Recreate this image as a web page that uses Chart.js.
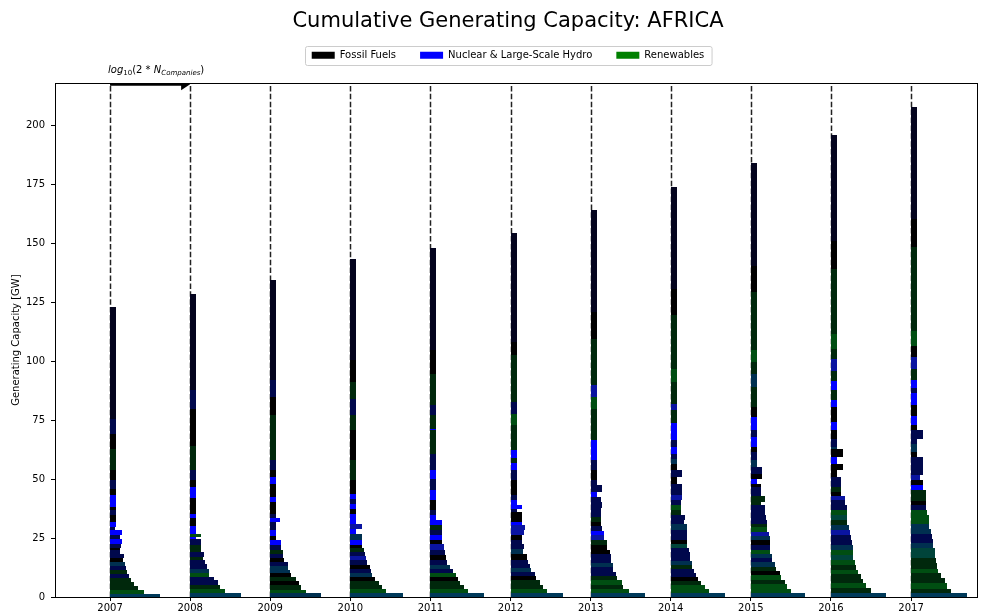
<!DOCTYPE html>
<html>
<head>
<meta charset="utf-8">
<title>Cumulative Generating Capacity: AFRICA</title>
<script src="https://cdn.jsdelivr.net/npm/chart.js@4.4.0/dist/chart.umd.min.js"></script>
<style>
    html, body { margin: 0; padding: 0; background: #fff; }
    #wrap { width: 984px; height: 612px; }
</style>
</head>
<body>
<div id="wrap"><canvas id="capacity-chart" width="984" height="612"></canvas></div>
<script>
const years = [2007, 2008, 2009, 2010, 2011, 2012, 2013, 2014, 2015, 2016, 2017];
const yTicks = [0, 25, 50, 75, 100, 125, 150, 175, 200];
const categories = ['Fossil Fuels', 'Nuclear & Large-Scale Hydro', 'Renewables'];
const categoryColors = ['#000000', '#0000ff', '#008000'];

// each company block: [cumulative capacity at its top (GW), log10(2*N) width (years), fuel mix key]
const seg2007 = [
    [1.4, 0.63, 'c'], [3.1, 0.43, 'G'], [4.7, 0.35, 'g'], [6.5, 0.30, 'g'], [8.2, 0.26, 'g'],
    [9.9, 0.24, 'n'], [11.6, 0.21, 'g'], [13.3, 0.20, 'n'], [15.0, 0.19, 't'], [16.7, 0.16, 'k'],
    [18.4, 0.18, 'n'], [19.8, 0.13, 'n'], [20.8, 0.13, 'k'], [22.4, 0.14, 'n'], [24.5, 0.15, 'b'],
    [26.1, 0.13, 'n'], [28.2, 0.15, 'b'], [29.6, 0.06, 'n'], [31.8, 0.075, 'b'], [34.6, 0.075, 'k'],
    [37.0, 0.075, 'n'], [38.1, 0.075, 'k'], [43.1, 0.075, 'b'], [45.9, 0.075, 'k'], [49.4, 0.075, 'n'],
    [53.7, 0.075, 'k'], [62.9, 0.075, 'g'], [69.2, 0.075, 'k'], [75.6, 0.075, 'n'], [123.0, 0.075, 'd']
];
const seg2008 = [
    [1.7, 0.63, 'c'], [3.5, 0.43, 'G'], [5.2, 0.375, 'g'], [7.1, 0.35, 'n'], [8.5, 0.30, 'n'],
    [10.2, 0.24, 'G'], [12.0, 0.23, 't'], [13.9, 0.21, 'n'], [15.5, 0.19, 'n'], [17.0, 0.16, 'g'],
    [19.1, 0.17, 'n'], [22.0, 0.14, 'g'], [24.7, 0.14, 'n'], [25.5, 0.075, 'b'], [26.8, 0.13, 'G'],
    [30.0, 0.075, 'b'], [33.6, 0.075, 'k'], [35.3, 0.075, 'b'], [42.1, 0.075, 'k'], [46.6, 0.075, 'b'],
    [49.4, 0.075, 'k'], [53.7, 0.075, 'n'], [64.0, 0.075, 'g'], [79.8, 0.075, 'k'], [87.6, 0.075, 'n'],
    [128.6, 0.075, 'd']
];
const seg2009 = [
    [1.7, 0.64, 't'], [3.1, 0.45, 'G'], [4.9, 0.38, 'g'], [6.8, 0.36, 'k'], [8.5, 0.32, 'g'],
    [10.2, 0.26, 'k'], [11.6, 0.25, 't'], [13.3, 0.22, 't'], [15.0, 0.22, 'n'], [16.7, 0.175, 'k'],
    [18.4, 0.16, 'n'], [20.1, 0.16, 'g'], [22.1, 0.13, 'n'], [24.3, 0.13, 'b'], [25.7, 0.075, 'k'],
    [28.3, 0.075, 'b'], [31.8, 0.075, 'n'], [33.6, 0.125, 'b'], [35.3, 0.075, 'n'], [40.3, 0.075, 'k'],
    [42.4, 0.075, 'b'], [48.0, 0.075, 'k'], [50.9, 0.075, 'b'], [53.7, 0.075, 'k'], [57.9, 0.075, 'n'],
    [77.0, 0.075, 'g'], [84.7, 0.075, 'k'], [91.8, 0.075, 'n'], [134.5, 0.075, 'd']
];
const seg2010 = [
    [1.7, 0.66, 'c'], [3.4, 0.45, 'G'], [5.1, 0.39, 'g'], [6.8, 0.36, 'g'], [8.5, 0.31, 'k'],
    [10.2, 0.27, 't'], [11.9, 0.26, 'n'], [13.6, 0.24, 'k'], [15.5, 0.21, 'n'], [17.2, 0.19, 'm'],
    [18.9, 0.18, 'n'], [20.6, 0.17, 'g'], [22.1, 0.14, 'k'], [24.3, 0.14, 'b'], [26.8, 0.14, 't'],
    [28.9, 0.075, 'b'], [31.1, 0.14, 'm'], [35.0, 0.075, 'b'], [37.4, 0.075, 'k'], [39.6, 0.075, 'b'],
    [41.7, 0.075, 'n'], [43.8, 0.075, 'b'], [49.4, 0.075, 'k'], [57.9, 0.075, 'g'], [70.6, 0.075, 'k'],
    [77.0, 0.075, 'g'], [84.0, 0.075, 'n'], [91.0, 0.075, 'g'], [100.3, 0.075, 'k'], [143.4, 0.075, 'd']
];
const seg2011 = [
    [1.7, 0.67, 'c'], [3.4, 0.47, 'G'], [5.1, 0.42, 'g'], [6.8, 0.375, 'g'], [8.5, 0.35, 'k'],
    [10.2, 0.32, 'G'], [11.9, 0.28, 'n'], [13.6, 0.25, 't'], [15.5, 0.21, 'n'], [17.7, 0.19, 'k'],
    [20.1, 0.18, 'n'], [22.3, 0.17, 'm'], [24.3, 0.14, 'k'], [26.1, 0.14, 'b'], [28.3, 0.14, 'n'],
    [30.4, 0.14, 'g'], [32.5, 0.14, 'b'], [34.6, 0.075, 'b'], [36.7, 0.075, 'n'], [41.0, 0.075, 'k'],
    [45.2, 0.075, 'b'], [50.1, 0.075, 'n'], [53.7, 0.075, 'b'], [60.7, 0.075, 'n'], [70.6, 0.075, 'g'],
    [71.3, 0.075, 'b'], [77.0, 0.075, 'g'], [81.2, 0.075, 'n'], [94.6, 0.075, 'g'], [104.5, 0.075, 'k'],
    [147.8, 0.075, 'd']
];
const seg2012 = [
    [1.7, 0.66, 'c'], [3.4, 0.46, 'G'], [5.1, 0.40, 'g'], [7.1, 0.37, 'g'], [8.8, 0.32, 'k'],
    [10.6, 0.30, 'n'], [12.4, 0.26, 't'], [14.1, 0.24, 'n'], [15.8, 0.22, 'n'], [18.4, 0.20, 'k'],
    [20.5, 0.16, 't'], [22.3, 0.17, 'n'], [24.0, 0.14, 'n'], [26.1, 0.14, 'k'], [28.3, 0.17, 'm'],
    [30.4, 0.18, 'm'], [31.8, 0.14, 'b'], [36.0, 0.14, 'k'], [37.4, 0.075, 'n'], [39.2, 0.14, 'b'],
    [41.0, 0.075, 'b'], [43.1, 0.075, 'n'], [49.4, 0.075, 'k'], [53.7, 0.075, 'n'], [56.8, 0.075, 'b'],
    [59.1, 0.075, 'g'], [62.2, 0.075, 'b'], [72.7, 0.075, 'g'], [77.7, 0.075, 'G'], [82.6, 0.075, 'n'],
    [102.4, 0.075, 'g'], [108.0, 0.075, 'k'], [154.5, 0.075, 'd']
];
const seg2013 = [
    [1.7, 0.675, 'c'], [3.4, 0.48, 'G'], [5.1, 0.40, 'g'], [7.1, 0.39, 'G'], [8.8, 0.33, 'g'],
    [10.6, 0.32, 'n'], [12.7, 0.28, 'n'], [14.4, 0.275, 't'], [16.1, 0.25, 'n'], [18.1, 0.25, 'n'],
    [19.8, 0.24, 'k'], [21.9, 0.21, 'k'], [24.3, 0.21, 'g'], [26.1, 0.17, 'm'], [27.9, 0.17, 'b'],
    [29.9, 0.14, 'n'], [31.8, 0.125, 'k'], [33.9, 0.125, 'g'], [36.0, 0.125, 'n'], [37.9, 0.125, 'n'],
    [40.3, 0.14, 'n'], [42.4, 0.125, 'n'], [44.5, 0.075, 'b'], [47.3, 0.14, 'n'], [49.4, 0.075, 'n'],
    [53.7, 0.075, 'k'], [57.9, 0.075, 'n'], [66.4, 0.075, 'b'], [79.8, 0.075, 'g'], [84.7, 0.075, 'G'],
    [89.7, 0.075, 'm'], [109.5, 0.075, 'g'], [120.8, 0.075, 'k'], [164.0, 0.075, 'd']
];
const seg2014 = [
    [1.7, 0.68, 'c'], [3.4, 0.48, 'G'], [5.1, 0.425, 'G'], [6.8, 0.38, 'g'], [8.5, 0.34, 'k'],
    [10.2, 0.32, 'n'], [11.9, 0.29, 'n'], [13.6, 0.26, 'g'], [15.3, 0.26, 't'], [17.0, 0.24, 'n'],
    [19.1, 0.24, 'n'], [20.9, 0.225, 'n'], [22.6, 0.20, 'e'], [24.3, 0.20, 'k'], [26.1, 0.20, 'n'],
    [28.3, 0.20, 'n'], [31.1, 0.20, 't'], [32.5, 0.165, 'n'], [34.6, 0.175, 'n'], [36.7, 0.13, 'g'],
    [38.9, 0.13, 'G'], [41.0, 0.13, 'n'], [43.1, 0.145, 'm'], [45.2, 0.145, 'n'], [48.0, 0.145, 'n'],
    [50.9, 0.075, 'k'], [53.7, 0.145, 'n'], [56.5, 0.075, 'k'], [58.6, 0.075, 't'], [60.7, 0.075, 'n'],
    [63.6, 0.075, 'b'], [66.4, 0.075, 'n'], [73.6, 0.075, 'b'], [79.1, 0.075, 'g'], [81.9, 0.075, 'm'],
    [91.1, 0.075, 'g'], [96.8, 0.075, 'G'], [119.4, 0.075, 'g'], [130.6, 0.075, 'k'], [173.7, 0.075, 'd']
];
const seg2015 = [
    [1.7, 0.68, 'c'], [3.5, 0.50, 'G'], [5.7, 0.455, 'G'], [7.4, 0.425, 'g'], [9.3, 0.38, 'G'],
    [11.0, 0.36, 'k'], [12.7, 0.32, 'g'], [14.7, 0.30, 't'], [16.4, 0.27, 'n'], [18.4, 0.26, 't'],
    [20.1, 0.24, 'G'], [21.9, 0.24, 'n'], [24.0, 0.24, 'k'], [25.7, 0.24, 't'], [27.5, 0.23, 'm'],
    [29.7, 0.20, 'G'], [31.1, 0.20, 'g'], [32.8, 0.20, 'n'], [34.6, 0.19, 'n'], [38.9, 0.175, 'n'],
    [40.3, 0.13, 'g'], [42.7, 0.18, 'g'], [46.6, 0.13, 'n'], [48.0, 0.13, 'k'], [50.1, 0.075, 'b'],
    [52.3, 0.145, 'k'], [55.1, 0.145, 'n'], [57.9, 0.075, 't'], [61.4, 0.075, 'n'], [63.6, 0.075, 'k'],
    [67.8, 0.075, 'b'], [70.6, 0.075, 'n'], [76.3, 0.075, 'b'], [80.5, 0.075, 'k'], [89.0, 0.075, 'g'],
    [94.6, 0.075, 't'], [99.6, 0.075, 'g'], [104.5, 0.075, 'G'], [129.2, 0.075, 'g'], [140.5, 0.075, 'k'],
    [184.0, 0.075, 'd']
];
const seg2016 = [
    [1.7, 0.69, 'c'], [4.0, 0.50, 'g'], [5.9, 0.44, 'G'], [7.8, 0.40, 'g'], [9.6, 0.38, 'g'],
    [11.6, 0.34, 'G'], [13.4, 0.31, 'g'], [15.5, 0.30, 'G'], [17.7, 0.28, 'e'], [19.8, 0.28, 'G'],
    [21.9, 0.27, 't'], [24.0, 0.26, 'n'], [26.1, 0.245, 'n'], [28.3, 0.24, 'm'], [30.4, 0.22, 't'],
    [32.5, 0.20, 'g'], [34.6, 0.195, 'e'], [36.7, 0.195, 'G'], [38.9, 0.195, 'n'], [41.0, 0.175, 'n'],
    [42.7, 0.175, 'm'], [44.5, 0.13, 'k'], [46.6, 0.13, 'g'], [48.7, 0.13, 'n'], [50.9, 0.13, 'n'],
    [53.7, 0.075, 'k'], [56.5, 0.15, 'k'], [59.3, 0.075, 'b'], [62.9, 0.15, 'k'], [63.6, 0.075, 't'],
    [67.1, 0.075, 'n'], [70.6, 0.075, 'k'], [74.0, 0.075, 'b'], [80.5, 0.075, 'k'], [83.3, 0.075, 'b'],
    [87.6, 0.075, 'g'], [91.4, 0.075, 'b'], [95.6, 0.075, 'g'], [101.0, 0.075, 'm'], [105.2, 0.075, 'g'],
    [111.6, 0.075, 'G'], [139.1, 0.075, 'g'], [151.1, 0.075, 'k'], [196.0, 0.075, 'd']
];
const seg2017 = [
    [1.7, 0.70, 'c'], [3.5, 0.50, 'g'], [5.9, 0.45, 'G'], [8.2, 0.42, 'g'], [10.2, 0.37, 'g'],
    [12.0, 0.34, 'G'], [14.4, 0.33, 'g'], [16.7, 0.31, 'g'], [18.9, 0.30, 'e'], [20.9, 0.30, 'e'],
    [22.9, 0.28, 't'], [24.7, 0.27, 'n'], [26.8, 0.26, 'n'], [28.9, 0.25, 't'], [31.1, 0.23, 't'],
    [32.8, 0.22, 'G'], [34.6, 0.22, 'G'], [36.7, 0.20, 'G'], [39.2, 0.19, 'n'], [40.9, 0.19, 'k'],
    [43.4, 0.19, 'g'], [45.2, 0.19, 'g'], [47.3, 0.15, 'b'], [49.4, 0.15, 'k'], [51.6, 0.11, 'm'],
    [53.7, 0.15, 'n'], [56.5, 0.15, 'n'], [59.3, 0.15, 'n'], [61.4, 0.075, 'k'], [65.0, 0.075, 't'],
    [67.1, 0.075, 'n'], [70.6, 0.15, 'n'], [72.7, 0.075, 'k'], [76.7, 0.075, 'b'], [81.5, 0.075, 'k'],
    [86.5, 0.075, 'b'], [88.5, 0.075, 'n'], [91.8, 0.075, 'b'], [96.8, 0.075, 'g'], [101.7, 0.075, 'm'],
    [106.6, 0.075, 'k'], [112.6, 0.075, 'G'], [128.1, 0.075, 'g'], [148.3, 0.075, 'g'], [160.3, 0.075, 'k'],
    [207.5, 0.075, 'd']
];
const segmentsByYear = [seg2007, seg2008, seg2009, seg2010, seg2011, seg2012,
    seg2013, seg2014, seg2015, seg2016, seg2017];

// blended colour for each fuel mix (black = fossil, blue = nuclear/hydro, green = renewables)
const mixColors = {
    k: '#000000', d: '#04041e', n: '#00084c', m: '#0a14a0', b: '#0000ff',
    g: '#00280c', G: '#004e12', t: '#003050', e: '#00443a', c: '#003a5a'
};

Chart.defaults.font.family = "'DejaVu Sans', sans-serif";
Chart.defaults.color = '#000';

// room under the legend for the arrow caption, and title/legend centred over the axes
const headerLayout = {
    id: 'headerLayout',
    beforeInit(chart) {
        const fit = chart.legend.fit;
        chart.legend.fit = function () {
            fit.call(this);
            this.height += 13;
        };
    },
    afterLayout(chart) {
        [chart.titleBlock, chart.legend].forEach(box => {
            box.left += 19;
            box.right += 19;
        });
    }
};

const capacityBars = {
    id: 'capacityBars',
    beforeDatasetsDraw(chart) {
        const { ctx, chartArea, scales: { x, y } } = chart;
        ctx.save();
        ctx.beginPath();
        ctx.rect(chartArea.left, chartArea.top, chartArea.width, chartArea.height);
        ctx.clip();

        // dashed line at each year
        ctx.strokeStyle = '#222';
        ctx.lineWidth = 1.5;
        ctx.setLineDash([5.5, 2.4]);
        years.forEach(yr => {
            const px = Math.round(x.getPixelForValue(yr)) + 0.5;
            ctx.beginPath();
            ctx.moveTo(px, chartArea.bottom);
            ctx.lineTo(px, chartArea.top);
            ctx.stroke();
        });
        ctx.setLineDash([]);

        // stacked company blocks
        years.forEach((yr, i) => {
            let base = 0;
            segmentsByYear[i].forEach(([top, w, key]) => {
                const x0 = Math.round(x.getPixelForValue(yr));
                const x1 = Math.round(x.getPixelForValue(yr + w));
                const y0 = Math.round(y.getPixelForValue(base));
                const y1 = Math.round(y.getPixelForValue(top));
                ctx.fillStyle = mixColors[key];
                ctx.fillRect(x0, y1, x1 - x0, y0 - y1);
                base = top;
            });
        });

        // scale arrow: one year of width = log10(2*N_companies)
        const ay = y.getPixelForValue(217.4);
        const ax0 = x.getPixelForValue(2007);
        const ax1 = x.getPixelForValue(2008);
        ctx.strokeStyle = '#000';
        ctx.lineWidth = 3;
        ctx.beginPath();
        ctx.moveTo(ax0, ay);
        ctx.lineTo(ax1 - 6, ay);
        ctx.stroke();
        ctx.fillStyle = '#000';
        ctx.beginPath();
        ctx.moveTo(ax1 - 9, ay - 6);
        ctx.lineTo(ax1, ay);
        ctx.lineTo(ax1 - 9, ay + 6);
        ctx.closePath();
        ctx.fill();
        ctx.restore();
    },
    afterDraw(chart) {
        const { ctx, chartArea, scales: { x } } = chart;
        ctx.save();

        // axes frame
        ctx.strokeStyle = '#000';
        ctx.lineWidth = 1;
        ctx.strokeRect(Math.round(chartArea.left) + 0.5, Math.round(chartArea.top) + 0.5,
            Math.round(chartArea.width) - 1, Math.round(chartArea.height));

        // legend border
        const boxes = chart.legend.legendHitBoxes;
        if (boxes.length) {
            const left = Math.min(...boxes.map(b => b.left)) - 7;
            const right = Math.max(...boxes.map(b => b.left + b.width)) + 7;
            const mid = boxes[0].top + boxes[0].height / 2;
            ctx.strokeStyle = '#cccccc';
            ctx.beginPath();
            ctx.roundRect(Math.round(left) + 0.5, Math.round(mid - 9.5) + 0.5, right - left, 19, 2);
            ctx.stroke();
        }

        // arrow caption: log10(2 * N_Companies)
        let cx = x.getPixelForValue(2007) - 2;
        const by = 73;
        const parts = [
            ['log', 'italic 10px "DejaVu Sans"', 0],
            ['10', '7px "DejaVu Sans"', 2],
            ['(2 * ', '10px "DejaVu Sans"', 0],
            ['N', 'italic 10px "DejaVu Sans"', 0],
            ['Companies', 'italic 7px "DejaVu Sans"', 2],
            [')', '10px "DejaVu Sans"', 0]
        ];
        ctx.fillStyle = '#000';
        ctx.textBaseline = 'alphabetic';
        parts.forEach(([txt, font, dy]) => {
            ctx.font = font;
            ctx.fillText(txt, cx, by + dy);
            cx += ctx.measureText(txt).width;
        });
        ctx.restore();
    }
};

new Chart(document.getElementById('capacity-chart'), {
    type: 'scatter',
    data: {
        datasets: categories.map((name, i) => ({
            label: name,
            data: [],
            backgroundColor: categoryColors[i],
            borderColor: categoryColors[i],
            borderWidth: 0
        }))
    },
    options: {
        responsive: false,
        animation: false,
        devicePixelRatio: 1,
        layout: { padding: { left: 0, right: 6, top: 0, bottom: 0 } },
        plugins: {
            title: {
                display: true,
                text: 'Cumulative Generating Capacity: AFRICA',
                font: { size: 21, weight: 'normal' },
                color: '#000',
                padding: { top: 9, bottom: -8 }
            },
            legend: {
                position: 'top',
                labels: {
                    boxWidth: 23,
                    boxHeight: 7,
                    padding: 24,
                    font: { size: 10 },
                    color: '#000'
                }
            },
            tooltip: { enabled: false }
        },
        scales: {
            x: {
                type: 'linear',
                min: 2006.313,
                max: 2017.836,
                afterBuildTicks: scale => { scale.ticks = years.map(v => ({ value: v })); },
                afterFit: scale => { scale.height = 15; },
                ticks: { font: { size: 10 }, color: '#000', padding: 1, callback: v => String(v) },
                grid: { display: true, drawOnChartArea: false, drawTicks: true, tickLength: 4, color: '#000' },
                border: { display: false }
            },
            y: {
                type: 'linear',
                min: 0,
                max: 217.8,
                afterBuildTicks: scale => { scale.ticks = yTicks.map(v => ({ value: v })); },
                afterFit: scale => { scale.width = 55; },
                ticks: { font: { size: 10 }, color: '#000', padding: 6 },
                grid: { display: true, drawOnChartArea: false, drawTicks: true, tickLength: 4, color: '#000' },
                border: { display: false },
                title: {
                    display: true,
                    text: 'Generating Capacity [GW]',
                    font: { size: 10 },
                    color: '#000',
                    padding: { top: 10, bottom: 0 }
                }
            }
        }
    },
    plugins: [headerLayout, capacityBars]
});
</script>
</body>
</html>
